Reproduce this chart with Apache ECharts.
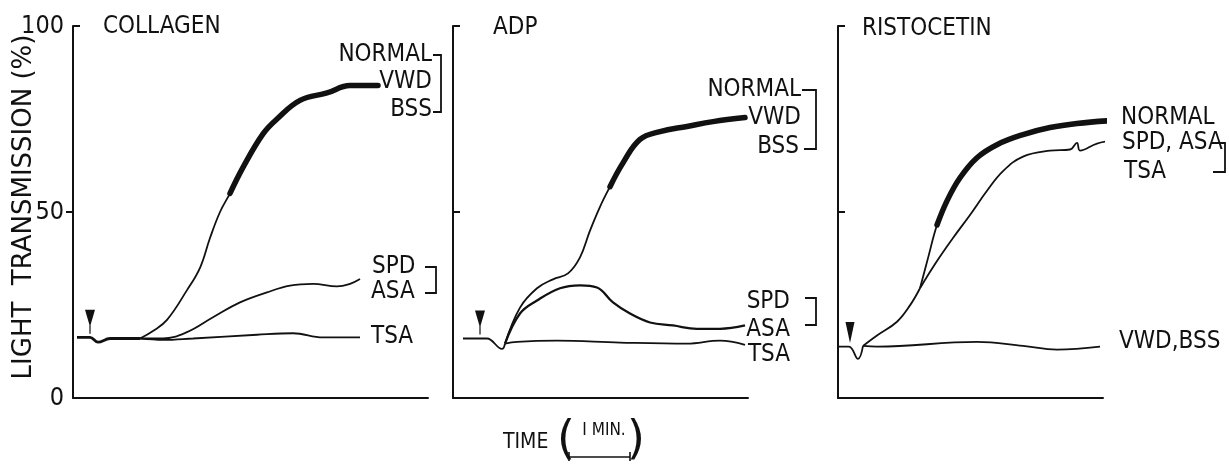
<!DOCTYPE html>
<html>
<head>
<meta charset="utf-8">
<script src="https://cdn.jsdelivr.net/npm/echarts@6/dist/echarts.min.js"></script>
<style>
    html, body { margin: 0; padding: 0; background: #fff; }
    #chart { width: 1229px; height: 467px; }
</style>
</head>
<body>
<div id="chart"></div>
<script>
// time in trace units (62 units = 1 min), value = light transmission %

// collagen
const collagenBase = [[4, 16.3], [17, 16.3], [25, 15], [37, 16], [67, 16]];
const collagenNormal = [[67, 16], [80, 18], [94, 21], [114, 29], [127, 35], [137, 43], [147, 50], [157, 55], [170, 62], [190, 71], [204, 75], [227, 80], [254, 82], [277, 84], [305, 84]];
const collagenSpdAsa = [[67, 16], [90, 16], [114, 17.7], [140, 21.7], [167, 25.7], [194, 28.4], [217, 30.2], [240, 30.7], [264, 30], [277, 30.7], [287, 32]];
const collagenTsa = [[67, 16], [90, 15.6], [120, 16], [184, 17], [220, 17.4], [250, 16.3], [287, 16.3]];

// ADP
const adpBase = [[10, 16], [27, 16], [34, 16], [49, 13.2], [52, 14.6]];
const adpNormal = [[52, 14.6], [67, 24.3], [84, 29.5], [100, 31.9], [115, 33.5], [127, 37.8], [137, 45], [147, 51.4], [157, 56.8], [170, 63.2], [187, 69.5], [207, 71.6], [234, 73], [260, 74.3], [292, 75.4]];
const adpSpdAsa = [[52, 14.6], [67, 22.7], [84, 26.2], [107, 29.5], [127, 30.3], [144, 29.7], [160, 25.7], [177, 22.7], [197, 20.3], [220, 19.5], [244, 18.6], [267, 18.6], [292, 19.5]];
const adpTsa = [[52, 14.6], [64, 15.1], [104, 15.4], [167, 14.9], [234, 14.6], [267, 15.4], [292, 14.3]];

// ristocetin
const ristoBase = [[0, 13.8], [11, 13.8], [20, 10.5], [25, 14]];
const ristoVwdBss = [[25, 14], [39, 13.8], [139, 15.1], [185, 14], [219, 13], [262, 13.8]];
const ristoRise = [[25, 14], [39, 16.8], [59, 20.5], [72, 24.9], [82, 29.5]];
const ristoNormal = [[82, 29.5], [90, 37.6], [99, 46.5], [109, 53], [122, 59.2], [139, 64.6], [159, 68.1], [185, 70.8], [212, 72.7], [239, 73.8], [275, 74.6]];
const ristoSpdAsaTsa = [[82, 29.5], [99, 36.8], [115, 43], [132, 49.2], [149, 55.7], [165, 61], [185, 64.9], [212, 66.5], [232, 66.8], [239, 68.6], [242, 66.5], [259, 68.4], [275, 69.2]];

// where the NORMAL trace turns into the thick noisy band
const thickFrom = [150, 154, 99];
// arrow (addition of agonist): time, centre value
const arrows = [[17, 20.5], [27, 20.3], [12, 17.6]];
const yTicks = [0, 50, 100];

const FONT = "'DejaVu Sans Condensed', 'Liberation Sans Narrow', 'Liberation Sans', sans-serif";
const FONT_WIDE = "'DejaVu Sans', 'Liberation Sans', sans-serif";
const INK = '#111';

let myChart = echarts.init(document.getElementById('chart'));

const panels = [
    { left: 73, width: 355, max: 355 },
    { left: 453, width: 295, max: 295 },
    { left: 838, width: 265, max: 265 }
];

function line(idx, data, width) {
    return {
        type: 'line',
        xAxisIndex: idx,
        yAxisIndex: idx,
        data: data,
        showSymbol: false,
        smooth: 0.4,
        clip: false,
        silent: true,
        lineStyle: { color: INK, width: width || 1.8 },
        z: 3
    };
}

function thick(idx, data) {
    let s = line(idx, data.filter(p => p[0] >= thickFrom[idx]), 5.5);
    s.lineStyle.cap = 'round';
    return s;
}

function arrow(idx) {
    return {
        type: 'scatter',
        xAxisIndex: idx,
        yAxisIndex: idx,
        data: [arrows[idx]],
        symbol: idx === 2 ? 'path://M0,0L9,0L4.5,21Z' : 'path://M0,0L10,0L5.6,15L5.6,24L4.4,24L4.4,15Z',
        symbolSize: idx === 2 ? [9, 21] : [10, 24],
        itemStyle: { color: INK, opacity: 1 },
        silent: true,
        z: 4
    };
}

function txt(x, y, text, align, size, font) {
    return {
        type: 'text',
        x: x,
        y: y,
        silent: true,
        style: {
            text: text,
            font: (size || 24) + 'px ' + (font || FONT),
            fill: INK,
            textAlign: align || 'left',
            textVerticalAlign: 'middle'
        }
    };
}

function poly(points) {
    return {
        type: 'polyline',
        silent: true,
        shape: { points: points },
        style: { stroke: INK, lineWidth: 1.8, fill: null }
    };
}

let option = {
    animation: false,
    backgroundColor: '#fff',
    grid: panels.map(p => ({ left: p.left, width: p.width, top: 26, height: 372 })),
    xAxis: panels.map((p, i) => ({
        type: 'value',
        gridIndex: i,
        min: 0,
        max: p.max,
        axisLine: { show: true, onZero: false, lineStyle: { color: INK, width: 2 } },
        axisTick: { show: false },
        axisLabel: { show: false },
        splitLine: { show: false }
    })),
    yAxis: panels.map((p, i) => ({
        type: 'value',
        gridIndex: i,
        min: 0,
        max: 100,
        interval: 50,
        axisLine: { show: true, lineStyle: { color: INK, width: 2 } },
        axisTick: {
            show: true,
            inside: i > 0,
            length: 7,
            customValues: i > 0 ? [50, 100] : [50],
            lineStyle: { color: INK, width: 2 }
        },
        axisLabel: {
            show: i === 0,
            customValues: yTicks,
            margin: 9,
            color: INK,
            fontFamily: FONT,
            fontSize: 25
        },
        splitLine: { show: false }
    })),
    series: [
        line(0, collagenBase, 2.8),
        line(0, collagenNormal),
        thick(0, collagenNormal),
        line(0, collagenSpdAsa),
        line(0, collagenTsa),
        arrow(0),

        line(1, adpBase),
        line(1, adpNormal),
        thick(1, adpNormal),
        line(1, adpSpdAsa, 2.3),
        line(1, adpTsa),
        arrow(1),

        line(2, ristoBase),
        line(2, ristoVwdBss),
        line(2, ristoRise),
        line(2, ristoNormal),
        thick(2, ristoNormal),
        line(2, ristoSpdAsaTsa),
        arrow(2)
    ],
    graphic: [
        // y axis title
        {
            type: 'text',
            x: 24,
            y: 207,
            rotation: Math.PI / 2,
            silent: true,
            style: {
                text: 'LIGHT  TRANSMISSION (%)',
                font: '26px ' + FONT_WIDE,
                fill: INK,
                textAlign: 'center',
                textVerticalAlign: 'middle'
            }
        },
        // top tick of the first axis points inwards
        { type: 'line', silent: true, shape: { x1: 73, y1: 26, x2: 80, y2: 26 }, style: { stroke: INK, lineWidth: 2 } },

        // collagen labels
        txt(103, 27, 'COLLAGEN'),
        txt(432, 55, 'NORMAL', 'right'),
        txt(432, 82, 'VWD', 'right'),
        txt(432, 110, 'BSS', 'right'),
        poly([[433, 55], [441, 55], [441, 112], [433, 112]]),
        txt(372, 267, 'SPD'),
        txt(371, 292, 'ASA'),
        poly([[425, 267], [436, 267], [436, 293], [425, 293]]),
        txt(371, 337, 'TSA'),

        // ADP labels
        txt(493, 28, 'ADP'),
        txt(801, 90, 'NORMAL', 'right'),
        txt(801, 118, 'VWD', 'right'),
        txt(799, 147, 'BSS', 'right'),
        poly([[802, 90], [816, 90], [816, 149], [804, 149]]),
        txt(790, 302, 'SPD', 'right'),
        txt(790, 330, 'ASA', 'right'),
        poly([[805, 298], [816, 298], [816, 325], [805, 325]]),
        txt(790, 355, 'TSA', 'right'),

        // ristocetin labels
        txt(862, 29, 'RISTOCETIN'),
        txt(1121, 118, 'NORMAL'),
        txt(1122, 143, 'SPD, ASA'),
        txt(1124, 172, 'TSA'),
        poly([[1215, 143], [1225, 143], [1225, 172], [1213, 172]]),
        txt(1119, 342, 'VWD,BSS'),

        // time scale
        txt(503, 443, 'TIME', 'left', 21),
        txt(566, 441, '(', 'center', 46, FONT_WIDE),
        txt(636, 441, ')', 'center', 46, FONT_WIDE),
        txt(604, 431, 'I MIN.', 'center', 17),
        { type: 'line', silent: true, shape: { x1: 569, y1: 457, x2: 630, y2: 457 }, style: { stroke: INK, lineWidth: 1.6 } },
        { type: 'line', silent: true, shape: { x1: 569, y1: 452, x2: 569, y2: 461 }, style: { stroke: INK, lineWidth: 1.6 } },
        { type: 'line', silent: true, shape: { x1: 630, y1: 452, x2: 630, y2: 461 }, style: { stroke: INK, lineWidth: 1.6 } }
    ]
};

myChart.setOption(option);
</script>
</body>
</html>
